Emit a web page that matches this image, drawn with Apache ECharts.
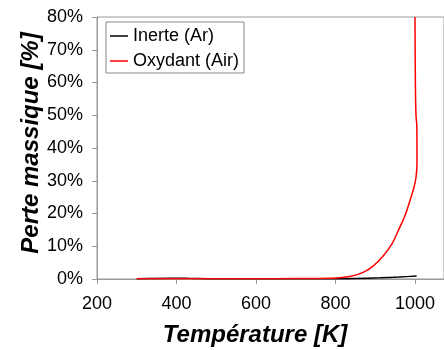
<!DOCTYPE html>
<html>
<head>
<meta charset="utf-8">
<script src="https://cdn.jsdelivr.net/npm/echarts@6/dist/echarts.min.js"></script>
<style>html,body{margin:0;padding:0;background:#fff}#c{width:444px;height:350px}</style>
</head>
<body>
<div id="c"></div>
<script>
// Temperature [K] and mass loss [%]
const tempAr = [300, 390, 430, 500, 600, 700, 790, 850, 912, 960, 1004];
const massAr = [0.1, 0.25, 0.2, 0.1, 0.1, 0.1, 0.05, 0.15, 0.35, 0.6, 0.9];
const tempOx = [300, 400, 500, 600, 700, 787, 837, 871, 896, 921, 942, 958, 975, 987.5, 997.5, 1002.5, 1005, 1005, 1004.5, 1002.5, 1001, 1000];
const massOx = [0.1, 0.1, 0.1, 0.1, 0.15, 0.25, 0.75, 2.1, 4.1, 7.2, 10.7, 14.8, 19.4, 24, 28, 31, 35, 40, 47, 50, 60, 80];
const xTicks = [200, 400, 600, 800, 1000];
const yTicks = [0, 10, 20, 30, 40, 50, 60, 70, 80];
const seriesNames = ['Inerte (Ar)', 'Oxydant (Air)'];

const FONT = "'Liberation Sans', Arial, sans-serif";
const chart = echarts.init(document.getElementById('c'), null, {renderer: 'canvas'});
const zip = (a, b) => a.map((v, i) => [v, b[i]]);
chart.setOption({
  animation: false,
  grid: {left: 97, top: 17, bottom: 71, right: 0, show: true, borderColor: '#999', borderWidth: 1},
  xAxis: {
    type: 'value', min: 200, max: 1073, interval: 200,
    axisLine: {lineStyle: {color: '#999'}},
    axisTick: {length: 5, inside: false, lineStyle: {color: '#999'}},
    splitLine: {show: false},
    axisLabel: {color: '#000', fontSize: 18, fontFamily: FONT, margin: 16, showMaxLabel: false,
      formatter: v => xTicks.includes(v) ? String(v) : ''}
  },
  yAxis: {
    type: 'value', min: 0, max: 80, interval: 10,
    axisLine: {show: true, lineStyle: {color: '#999'}},
    axisTick: {show: true, length: 5, lineStyle: {color: '#999'}},
    splitLine: {show: false},
    axisLabel: {color: '#000', fontSize: 18, fontFamily: FONT, margin: 14,
      formatter: v => yTicks.includes(v) ? v + '%' : ''}
  },
  legend: {
    orient: 'vertical', left: 106, top: 22,
    data: seriesNames,
    icon: 'rect',
    backgroundColor: '#fff', borderColor: '#888', borderWidth: 1,
    padding: [5, 5, 3, 4], itemGap: 7, itemWidth: 18, itemHeight: 1.5, itemTextGap: 5,
    textStyle: {color: '#000', fontSize: 18, fontFamily: FONT, lineHeight: 18}
  },
  series: [
    {name: seriesNames[0], type: 'line', data: zip(tempAr, massAr), symbol: 'none', smooth: 0.3,
      lineStyle: {color: '#000', width: 1.5}, itemStyle: {color: '#000'}, z: 2},
    {name: seriesNames[1], type: 'line', data: zip(tempOx, massOx), symbol: 'none', smooth: 0.4,
      lineStyle: {color: '#ff0000', width: 1.5}, itemStyle: {color: '#ff0000'}, z: 3}
  ],
  graphic: [
    {type: 'text', x: 255, y: 335, style: {text: 'Température [K]', font: "italic bold 24px 'Liberation Sans', Arial", fill: '#000', align: 'center', verticalAlign: 'middle'}},
    {type: 'text', x: 31, y: 143, rotation: Math.PI / 2, style: {text: 'Perte massique [%]', font: "italic bold 24px 'Liberation Sans', Arial", fill: '#000', align: 'center', verticalAlign: 'middle'}}
  ]
});
</script>
</body>
</html>
